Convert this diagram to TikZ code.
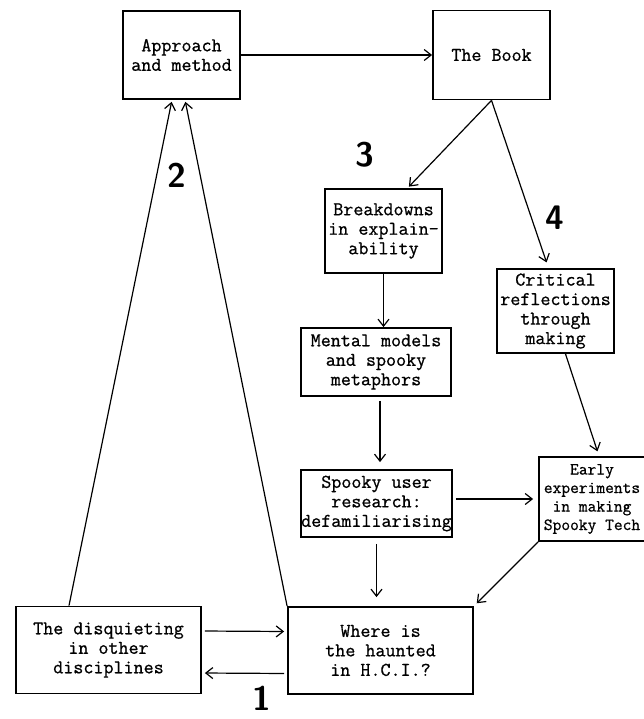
\documentclass[tikz,border=0pt]{standalone}
\usepackage{fontspec}
\usepackage{tikz}
\usetikzlibrary{arrows.meta}
\newfontfamily\typeface{Latin Modern Mono}[FakeBold=0.8]
\tikzset{
    stage/.style={draw, line width=1.8pt, inner sep=0pt, align=center,
        font=\typeface\fontsize{19.5}{19.5}\selectfont},
    flow/.style={line width=1.2pt, -{Straight Barb[length=7pt,width=11pt,line width=1.2pt]}},
    stepnum/.style={font=\sffamily\bfseries\fontsize{34}{34}\selectfont, inner sep=0pt}
}

\begin{document}
\begin{tikzpicture}[x=1pt, y=-1pt]
    \useasboundingbox (0,0) rectangle (644,719);
    % top row
    \node[stage, minimum width=117pt, minimum height=88pt] (approach) at (181.5,55) {Approach\\and method};
    \node[stage, minimum width=117pt, minimum height=89pt] (book) at (491.5,55) {The Book};
    % middle column
    \node[stage, minimum width=117pt, minimum height=84pt] (breakdowns) at (383.5,231) {Breakdowns\\in explain-\\ability};
    \node[stage, minimum width=150pt, minimum height=68pt] (mental) at (376,362) {Mental models\\and spooky\\metaphors};
    \node[stage, minimum width=151pt, minimum height=67pt] (spooky) at (376.5,503.5) {Spooky user\\research:\\defamiliarising};
    % right column
    \node[stage, minimum width=117pt, minimum height=84pt] (critical) at (555.5,311) {Critical\\reflections\\through\\making};
    \node[stage, minimum width=116pt, minimum height=84pt] (early) at (597,499) {};
    \node[font=\typeface\fontsize{17}{18.5}\selectfont, align=center, inner sep=0pt] (earlytext) at (592,499) {Early\\experiments\\in making\\Spooky Tech};
    % bottom row
    \node[stage, minimum width=185pt, minimum height=87pt] (disquiet) at (108.5,650) {The disquieting\\in other\\disciplines};
    \node[stage, minimum width=185pt, minimum height=87pt] (haunted) at (380.5,650.5) {Where is\\the haunted\\in H.C.I.?};

    \node[stepnum] (one) at (262,698) {1};
    \node[stepnum] (two) at (177,175) {2};
    \node[stepnum] (three) at (365,155) {3};
    \node[stepnum] (four) at (555,218) {4};

    \draw[flow] (approach.east) -- (book.west);
    \draw[flow, shorten >=2pt] (book.south) -- ([xshift=24pt]breakdowns.north);
    \draw[flow, shorten >=6pt] (book.south) -- ([xshift=-7pt]critical.north);
    \draw[flow] (breakdowns.south) -- (breakdowns.south |- mental.north);
    \draw[flow, shorten <=4pt, shorten >=7pt] ([xshift=4pt]mental.south) -- ([xshift=4pt]mental.south |- spooky.north);
    \draw[flow, shorten >=5pt] ([xshift=10pt]critical.south) -- ([xshift=2pt]early.north);
    \draw[flow, shorten <=3pt, shorten >=5pt] (spooky.east |- early.west) -- (early.west);
    \draw[flow, shorten <=6pt, shorten >=9pt] (spooky.south) -- (spooky.south |- haunted.north);
    \draw[flow, shorten >=4pt] (early.south west) -- (haunted.north east);
    \draw[flow, shorten <=3pt, shorten >=3pt] ([yshift=19pt]disquiet.east) -- ([yshift=19pt]haunted.west);
    \draw[flow, shorten <=3pt, shorten >=3pt] ([yshift=-23pt]haunted.west) -- ([yshift=-23pt]disquiet.east);
    \draw[flow, shorten >=2pt] ([xshift=-39.5pt]disquiet.north) -- ([xshift=-9.5pt]approach.south);
    \draw[flow, shorten >=2pt] (haunted.north west) -- ([xshift=3.5pt]approach.south);
\end{tikzpicture}
\end{document}
